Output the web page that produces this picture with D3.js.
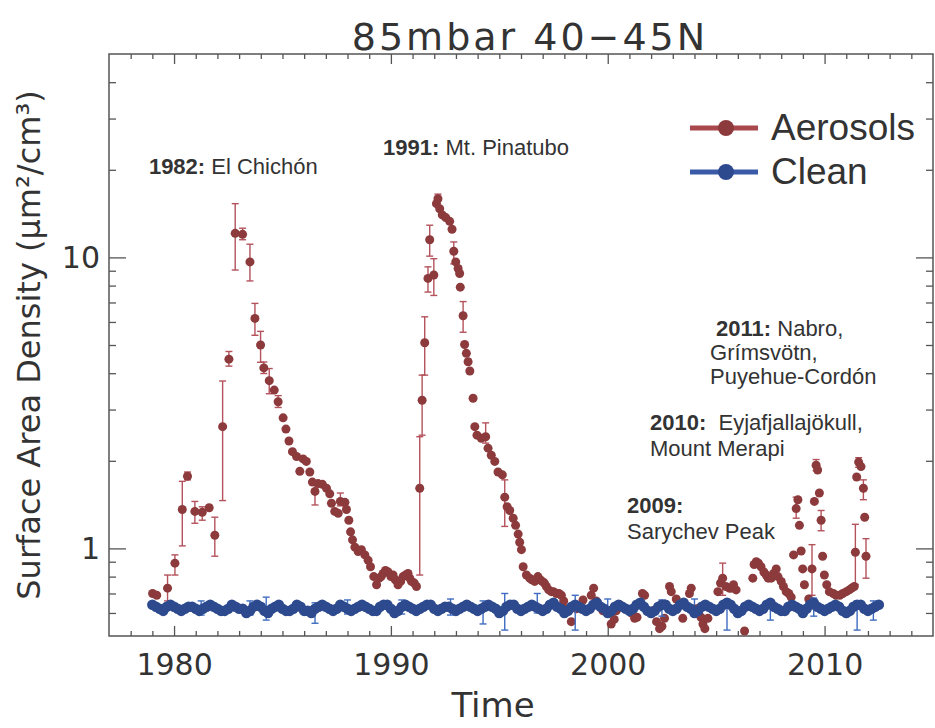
<!DOCTYPE html>
<html>
<head>
<meta charset="utf-8">
<script src="https://cdnjs.cloudflare.com/ajax/libs/d3/7.8.5/d3.min.js"></script>
<style>
    body { margin: 0; background: #fff; }
    .axisText { font-family: "DejaVu Sans", sans-serif; fill: #333; }
    .note { font-family: "Liberation Sans", Arial, sans-serif; font-size: 22px; fill: #333; white-space: pre; }
    .note .yr { font-weight: bold; }
    .legendText { font-family: "Liberation Sans", Arial, sans-serif; font-size: 37px; fill: #333; }
</style>
</head>
<body>
<svg id="chart" width="935" height="728"></svg>
<script>

// aerosol series: [decimal year, surface area density]
let aeroPoints = [[1979.01, 0.70], [1979.20, 0.69], [1979.70, 0.73], [1980.04, 0.89], [1980.38, 1.36],
    [1980.62, 1.77], [1980.96, 1.34], [1981.30, 1.33], [1981.62, 1.38], [1981.88, 1.11],
    [1982.24, 2.62], [1982.53, 4.47], [1982.82, 12.1], [1983.16, 12.0], [1983.50, 9.65],
    [1983.73, 6.17], [1983.99, 5.00], [1984.14, 4.17], [1984.39, 3.77], [1984.62, 3.50],
    [1984.80, 3.19], [1985.03, 2.81], [1985.16, 2.57], [1985.30, 2.34], [1985.46, 2.15],
    [1985.65, 2.07], [1985.80, 1.84], [1985.95, 2.03], [1986.10, 1.99], [1986.26, 1.83],
    [1986.38, 1.69], [1986.50, 1.57], [1986.64, 1.67], [1986.84, 1.66], [1987.03, 1.61],
    [1987.18, 1.54], [1987.26, 1.43], [1987.41, 1.34], [1987.57, 1.32], [1987.67, 1.45],
    [1987.88, 1.44], [1987.95, 1.36], [1988.06, 1.25], [1988.14, 1.14], [1988.23, 1.07],
    [1988.34, 1.01], [1988.49, 0.975], [1988.64, 0.99], [1988.80, 0.95], [1988.95, 0.91],
    [1989.06, 0.865], [1989.21, 0.80], [1989.34, 0.75], [1989.46, 0.79], [1989.55, 0.80],
    [1989.64, 0.82], [1989.75, 0.84], [1989.87, 0.83], [1990.00, 0.80], [1990.10, 0.81],
    [1990.20, 0.78], [1990.33, 0.75], [1990.45, 0.77], [1990.56, 0.80], [1990.68, 0.81],
    [1990.79, 0.82], [1990.87, 0.79], [1990.95, 0.77], [1991.08, 0.76], [1991.18, 0.74],
    [1991.33, 1.61], [1991.44, 3.23], [1991.56, 5.09], [1991.71, 8.47], [1991.79, 11.5],
    [1991.98, 8.7], [1992.10, 15.3], [1992.17, 15.9], [1992.25, 14.7], [1992.37, 14.0],
    [1992.53, 13.7], [1992.71, 13.3], [1992.82, 12.5], [1992.90, 10.5], [1992.99, 9.65],
    [1993.10, 9.16], [1993.17, 8.8], [1993.20, 7.9], [1993.33, 6.3], [1993.40, 5.02],
    [1993.48, 4.68], [1993.56, 4.38], [1993.64, 4.07], [1993.79, 3.28], [1993.87, 2.62],
    [1993.97, 2.45], [1994.17, 2.39], [1994.37, 2.42], [1994.48, 2.21], [1994.63, 2.09],
    [1994.79, 1.99], [1994.94, 1.83], [1995.14, 1.79], [1995.25, 1.50], [1995.36, 1.39],
    [1995.48, 1.35], [1995.64, 1.27], [1995.75, 1.20], [1995.87, 1.12], [1995.94, 1.05],
    [1996.02, 0.99], [1996.10, 0.865], [1996.25, 0.81], [1996.40, 0.79], [1996.50, 0.78],
    [1996.63, 0.77], [1996.78, 0.80], [1996.88, 0.78], [1996.98, 0.77], [1997.08, 0.76],
    [1997.17, 0.74], [1997.28, 0.72], [1997.40, 0.71], [1997.50, 0.71], [1997.63, 0.70],
    [1997.75, 0.70], [1997.86, 0.69], [1997.97, 0.66], [1998.09, 0.62], [1998.32, 0.56],
    [1998.55, 0.62], [1998.86, 0.665], [1999.24, 0.69], [1999.35, 0.73], [1999.47, 0.66],
    [1999.78, 0.61], [2000.16, 0.55], [2000.30, 0.57], [2000.39, 0.61], [2000.55, 0.64],
    [2001.00, 0.61], [2001.10, 0.60], [2001.24, 0.575], [2001.35, 0.58], [2001.60, 0.70],
    [2001.70, 0.69], [2002.08, 0.61], [2002.25, 0.56], [2002.39, 0.53], [2002.50, 0.54],
    [2002.62, 0.575], [2002.85, 0.74], [2002.93, 0.71], [2003.16, 0.67], [2003.46, 0.575],
    [2003.77, 0.70], [2003.85, 0.73], [2004.08, 0.62], [2004.30, 0.58], [2004.39, 0.55],
    [2004.48, 0.53], [2004.62, 0.575], [2005.08, 0.71], [2005.20, 0.76], [2005.30, 0.79],
    [2005.45, 0.74], [2005.61, 0.73], [2005.70, 0.73], [2005.80, 0.75], [2005.92, 0.72],
    [2006.31, 0.52], [2006.69, 0.79], [2006.75, 0.88], [2006.85, 0.90], [2006.95, 0.89],
    [2007.07, 0.865], [2007.20, 0.83], [2007.31, 0.81], [2007.40, 0.79], [2007.54, 0.79],
    [2007.65, 0.82], [2007.77, 0.85], [2007.85, 0.80], [2008.00, 0.77], [2008.10, 0.74],
    [2008.23, 0.71], [2008.35, 0.70], [2008.46, 0.68], [2008.57, 0.95], [2008.69, 1.37],
    [2008.77, 1.47], [2008.84, 1.20], [2008.92, 0.98], [2008.99, 0.85], [2009.07, 0.75],
    [2009.27, 0.67], [2009.42, 0.85], [2009.53, 1.45], [2009.61, 1.93], [2009.68, 1.86],
    [2009.76, 1.55], [2009.84, 1.25], [2009.91, 0.94], [2009.99, 0.81], [2010.10, 0.75],
    [2010.22, 0.71], [2010.40, 0.70], [2010.53, 0.69], [2010.70, 0.69], [2010.84, 0.70],
    [2011.00, 0.71], [2011.14, 0.72], [2011.25, 0.73], [2011.37, 0.74], [2011.42, 0.97],
    [2011.48, 1.76], [2011.57, 1.98], [2011.68, 1.91], [2011.79, 1.61], [2011.85, 1.28],
    [2011.91, 0.94]];

// visible aerosol error bars: [year, low, high]
let aeroBars = [[1979.70, 0.66, 0.81], [1980.04, 0.81, 0.95], [1980.38, 1.02, 1.70], [1980.62, 1.72, 1.83],
    [1980.96, 1.22, 1.45], [1981.30, 1.25, 1.39], [1981.88, 0.94, 1.28], [1982.24, 1.46, 3.76],
    [1982.53, 4.23, 4.75], [1982.82, 9.05, 15.3], [1983.16, 11.5, 12.6], [1983.50, 8.3, 11.1],
    [1983.73, 5.4, 6.95], [1983.99, 4.36, 5.57], [1984.14, 3.99, 4.37], [1984.39, 3.4, 4.15],
    [1984.80, 3.05, 3.35], [1986.50, 1.41, 1.65], [1987.67, 1.40, 1.55], [1991.33, 0.81, 2.42],
    [1991.44, 2.45, 3.94], [1991.56, 3.94, 6.25], [1991.71, 7.6, 9.28], [1991.79, 10.1, 12.9],
    [1991.98, 7.4, 9.9], [1992.17, 15.0, 16.5], [1992.90, 9.5, 11.3], [1993.33, 5.53, 7.05],
    [1994.37, 2.3, 2.7], [1995.25, 1.19, 1.72], [2005.30, 0.69, 0.89], [2008.69, 1.27, 1.50],
    [2009.42, 0.69, 1.03], [2009.61, 1.85, 2.02], [2009.84, 1.15, 1.35], [2011.42, 0.75, 1.21],
    [2011.57, 1.90, 2.05], [2011.79, 1.47, 1.72], [2011.91, 0.79, 1.08]];

// clean (background) series, every two months from 1979.0
let cleanStart = 1979;
let cleanStep = 1 / 6;
let cleanValue = [
    0.64, 0.63, 0.62, 0.61, 0.63, 0.64,   0.63, 0.62, 0.61, 0.62, 0.63, 0.63,
    0.62, 0.61, 0.62, 0.63, 0.64, 0.63,   0.62, 0.61, 0.61, 0.62, 0.64, 0.63,
    0.62, 0.62, 0.60, 0.61, 0.63, 0.64,   0.63, 0.61, 0.60, 0.62, 0.63, 0.64,
    0.62, 0.61, 0.61, 0.62, 0.64, 0.63,   0.61, 0.61, 0.60, 0.62, 0.63, 0.64,
    0.63, 0.62, 0.61, 0.62, 0.64, 0.63,   0.62, 0.61, 0.62, 0.63, 0.64, 0.63,
    0.62, 0.61, 0.61, 0.63, 0.64, 0.64,   0.62, 0.60, 0.61, 0.63, 0.64, 0.63,
    0.62, 0.61, 0.62, 0.63, 0.64, 0.64,   0.62, 0.61, 0.62, 0.63, 0.63, 0.62,
    0.61, 0.62, 0.63, 0.64, 0.63, 0.62,   0.61, 0.62, 0.63, 0.64, 0.63, 0.62,
    0.60, 0.61, 0.63, 0.64, 0.64, 0.62,   0.61, 0.62, 0.63, 0.64, 0.63, 0.62,
    0.61, 0.62, 0.64, 0.65, 0.63, 0.62,   0.60, 0.61, 0.63, 0.64, 0.63, 0.62,
    0.61, 0.62, 0.64, 0.65, 0.63, 0.62,   0.60, 0.61, 0.63, 0.64, 0.63, 0.62,
    0.61, 0.62, 0.64, 0.65, 0.63, 0.61,   0.60, 0.61, 0.63, 0.64, 0.64, 0.62,
    0.61, 0.62, 0.64, 0.65, 0.63, 0.62,   0.60, 0.61, 0.63, 0.64, 0.63, 0.62,
    0.61, 0.62, 0.64, 0.65, 0.64, 0.62,   0.60, 0.61, 0.63, 0.64, 0.63, 0.62,
    0.61, 0.62, 0.64, 0.65, 0.63, 0.62,   0.61, 0.61, 0.63, 0.64, 0.63, 0.62,
    0.60, 0.62, 0.64, 0.65, 0.63, 0.62,   0.61, 0.62, 0.63, 0.64, 0.63, 0.61,
    0.60, 0.61, 0.63, 0.64, 0.64, 0.62,   0.61, 0.62, 0.63, 0.64];

// visible clean error bars: [year, low, high]
let cleanBars = [[1981.25, 0.59, 0.66], [1983.5, 0.59, 0.66], [1984.25, 0.567, 0.68], [1986.5, 0.553, 0.65],
    [1988.0, 0.595, 0.665], [1990.5, 0.595, 0.665], [1992.75, 0.59, 0.67],
    [1994.25, 0.55, 0.66], [1995.25, 0.524, 0.70], [1996.75, 0.60, 0.70], [1998.5, 0.524, 0.69],
    [2000.0, 0.59, 0.67], [2002.5, 0.585, 0.665], [2004.0, 0.59, 0.67],
    [2005.5, 0.524, 0.66], [2007.5, 0.567, 0.66], [2009.5, 0.585, 0.675], [2011.5, 0.524, 0.66],
    [2012.25, 0.567, 0.66]];

let majorYears = [1980, 1990, 2000, 2010];
let majorValues = [1, 10];
let minorValues = [0.6, 0.7, 0.8, 0.9, 2, 3, 4, 5, 6, 7, 8, 9, 20, 30, 40];

// annotations: anchor in data units, one entry per text line [bold part, plain part]
let notes = [
    {x: 1978.84, y: 19.3, gap: 25, lines: [["1982:", " El Chichón"]]},
    {x: 1989.64, y: 22.5, gap: 25, lines: [["1991:", " Mt. Pinatubo"]]},
    {x: 2004.72, y: 5.37, gap: 24, lines: [["2011:", " Nabro,"], ["", "Grímsvötn,"], ["", "Puyehue-Cordón"]]},
    {x: 2001.95, y: 2.55, gap: 26, lines: [["2010:", "  Eyjafjallajökull,"], ["", "Mount Merapi"]]},
    {x: 2000.89, y: 1.32, gap: 26, lines: [["2009:", ""], ["", "Sarychev Peak"]]}
];

let redDot = "#8c3a3c", redBar = "#b4525c", redLine = "#a8484c";
let blueDot = "#2e4a8e", blueBar = "#3f6cc0", blueLine = "#3a5aa8";

let svg = d3.select("#chart");
let margin = {top: 54, right: 2, bottom: 92, left: 109};
let width = 935 - margin.left - margin.right;
let height = 728 - margin.top - margin.bottom;

let xScale = d3.scaleLinear().domain([1977, 2015]).range([0, width]);
let yScale = d3.scaleLog().domain([0.5, 50]).range([height, 0]);

let g = svg.append("g").attr("transform", "translate(" + margin.left + "," + margin.top + ")");

g.append("clipPath").attr("id", "plotClip")
    .append("rect").attr("width", width).attr("height", height);

// axes, ticks point inward on all four sides
let yearsMinor = d3.range(1978, 2015).filter(d => majorYears.indexOf(d) < 0);

function styleAxis(sel) {
    sel.select(".domain").remove();
    sel.selectAll("line").attr("stroke", "#555").attr("stroke-width", 1.3);
}

g.append("g").attr("transform", "translate(0," + height + ")")
    .call(d3.axisBottom(xScale).tickValues(majorYears).tickSize(-10).tickPadding(18).tickFormat(d3.format("d")))
    .call(styleAxis)
    .selectAll("text").attr("class", "axisText").style("font-size", "30px").attr("font-family", null);
g.append("g").attr("transform", "translate(0," + height + ")")
    .call(d3.axisBottom(xScale).tickValues(yearsMinor).tickSize(-5).tickFormat(""))
    .call(styleAxis);
g.append("g")
    .call(d3.axisTop(xScale).tickValues(majorYears).tickSize(-10).tickFormat(""))
    .call(styleAxis);
g.append("g")
    .call(d3.axisTop(xScale).tickValues(yearsMinor).tickSize(-5).tickFormat(""))
    .call(styleAxis);

g.append("g")
    .call(d3.axisLeft(yScale).tickValues(majorValues).tickSize(-17).tickPadding(9).tickFormat(d3.format("d")))
    .call(styleAxis)
    .selectAll("text").attr("class", "axisText").style("font-size", "30px").attr("font-family", null);
g.append("g")
    .call(d3.axisLeft(yScale).tickValues(minorValues).tickSize(-7).tickFormat(""))
    .call(styleAxis);
g.append("g").attr("transform", "translate(" + width + ",0)")
    .call(d3.axisRight(yScale).tickValues(majorValues).tickSize(-17).tickFormat(""))
    .call(styleAxis);
g.append("g").attr("transform", "translate(" + width + ",0)")
    .call(d3.axisRight(yScale).tickValues(minorValues).tickSize(-7).tickFormat(""))
    .call(styleAxis);

g.append("rect")
    .attr("width", width).attr("height", height)
    .attr("fill", "none").attr("stroke", "#555").attr("stroke-width", 1.5);

// error bars + markers
let plot = g.append("g").attr("clip-path", "url(#plotClip)");

function drawBars(bars, color) {
    let eb = plot.append("g").attr("stroke", color).attr("stroke-width", 1.4);
    bars.forEach(function(b) {
        let x = xScale(b[0]);
        eb.append("line").attr("x1", x).attr("x2", x).attr("y1", yScale(b[1])).attr("y2", yScale(b[2]));
        eb.append("line").attr("x1", x - 3.5).attr("x2", x + 3.5).attr("y1", yScale(b[1])).attr("y2", yScale(b[1]));
        eb.append("line").attr("x1", x - 3.5).attr("x2", x + 3.5).attr("y1", yScale(b[2])).attr("y2", yScale(b[2]));
    });
}

let cleanData = cleanValue.map((v, i) => [cleanStart + i * cleanStep, v]);

drawBars(aeroBars, redBar);
plot.append("g").selectAll("circle")
    .data(aeroPoints)
    .enter().append("circle")
    .attr("cx", d => xScale(d[0]))
    .attr("cy", d => yScale(d[1]))
    .attr("r", 4.5)
    .attr("fill", redDot);

drawBars(cleanBars, blueBar);
plot.append("g").selectAll("circle")
    .data(cleanData)
    .enter().append("circle")
    .attr("cx", d => xScale(d[0]))
    .attr("cy", d => yScale(d[1]))
    .attr("r", 5.3)
    .attr("fill", blueDot);

// volcano notes
notes.forEach(function(n) {
    let txt = g.append("text").attr("class", "note")
        .attr("x", xScale(n.x)).attr("y", yScale(n.y));
    n.lines.forEach(function(l, i) {
        let line = txt.append("tspan").attr("x", xScale(n.x)).attr("dy", i === 0 ? 0 : n.gap);
        if (l[0] !== "") line.append("tspan").attr("class", "yr").text(l[0]);
        line.append("tspan").text(l[1]);
    });
});
// first line of the 2011 note sits a little to the right
g.selectAll(".note").filter((d, i) => i === 2).select("tspan").attr("dx", 6);

// legend
let legend = svg.append("g").attr("transform", "translate(690,128)");
[["Aerosols", redLine, redDot], ["Clean", blueLine, blueDot]].forEach(function(d, i) {
    let row = legend.append("g").attr("transform", "translate(0," + (i * 44) + ")");
    row.append("line").attr("x1", 0).attr("x2", 68).attr("stroke", d[1]).attr("stroke-width", 5);
    row.append("circle").attr("cx", 36).attr("r", 8).attr("fill", d[2]);
    row.append("text").attr("class", "legendText").attr("x", 81).attr("y", 12).text(d[0]);
});

// titles
svg.append("text").attr("class", "axisText")
    .attr("x", 530).attr("y", 50).attr("text-anchor", "middle")
    .style("font-size", "38px").style("letter-spacing", "3px")
    .text("85mbar 40\u221245N");

svg.append("text").attr("class", "axisText")
    .attr("x", 493).attr("y", 717).attr("text-anchor", "middle")
    .style("font-size", "34px")
    .text("Time");

svg.append("text").attr("class", "axisText")
    .attr("transform", "translate(40,345) rotate(-90)")
    .attr("text-anchor", "middle")
    .style("font-size", "32px")
    .text("Surface Area Density (\u03bcm\u00b2/cm\u00b3)");

</script>
</body>
</html>
